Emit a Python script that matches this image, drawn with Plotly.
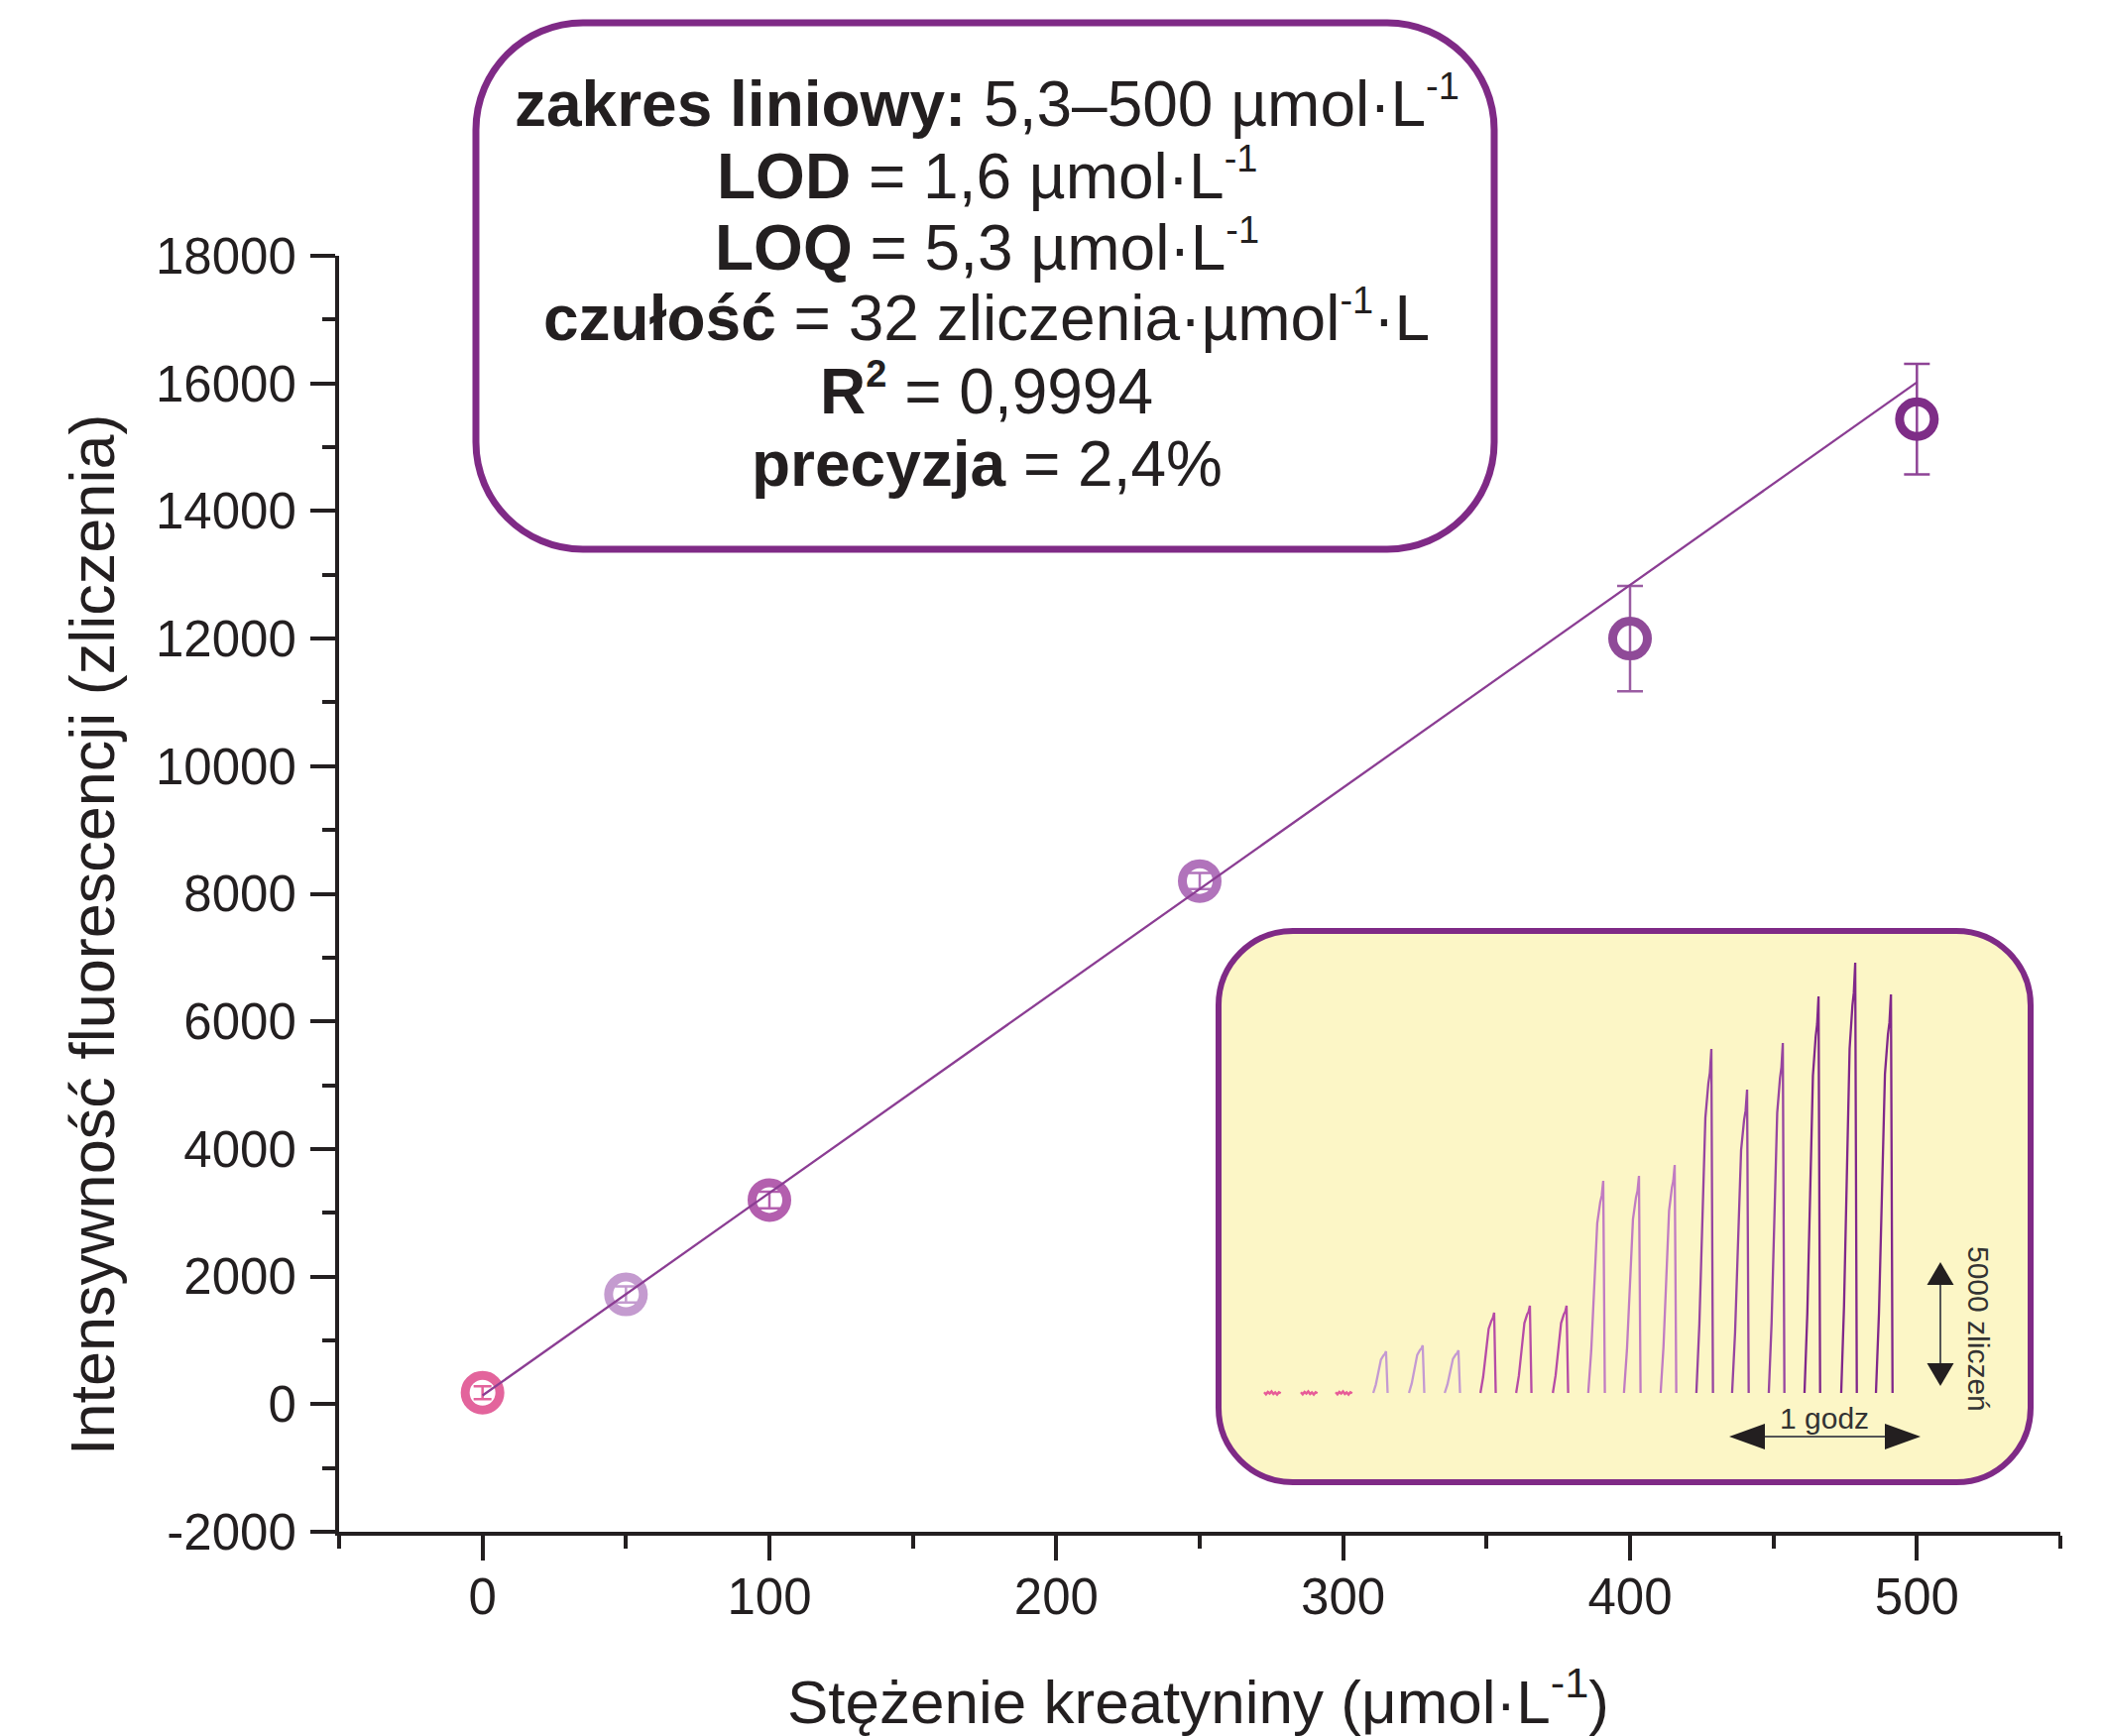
import plotly.graph_objects as go

# ---------------- data ----------------
CONC = [0, 50, 100, 250, 400, 500]                      # µmol/L
INTENSITY = [180, 1720, 3200, 8200, 12000, 15440]       # counts
INTENSITY_SD = [100, 125, 130, 125, 825, 868]           # counts
FIT_X = [0, 500]
FIT_Y = [136, 16016]

X_TICKS = [0, 100, 200, 300, 400, 500]
X_TICK_TEXT = ["0", "100", "200", "300", "400", "500"]
Y_TICKS = [-2000, 0, 2000, 4000, 6000, 8000, 10000, 12000, 14000, 16000, 18000]
Y_TICK_TEXT = ["-2000", "0", "2000", "4000", "6000", "8000", "10000",
               "12000", "14000", "16000", "18000"]

# inset: raw signal (time in min, signal in counts)
BLANK_START_MIN = [0.0, 11.5, 22.4]
BLANK_LEN_MIN = 5.2
BLANK_NOISE = [30, -50, 40, -20, 60, -40, 20, -60, 30, -10]
PEAK_GROUP = [50, 50, 50, 100, 100, 100, 250, 250, 250, 400, 400, 400, 500, 500, 500]
PEAK_START_MIN = [34.2, 45.4, 56.6, 67.8, 79.0, 90.5, 101.6, 112.8, 124.3,
                  135.5, 146.7, 158.2, 169.4, 180.9, 191.8]
PEAK_TOP_MIN = [38.2, 49.7, 60.9, 72.1, 83.3, 94.8, 106.3, 117.5, 128.7,
                140.2, 151.4, 162.6, 173.8, 185.3, 196.5]
PEAK_COUNTS = [1680, 1920, 1720, 3240, 3520, 3520, 8560, 8760, 9200,
               13880, 12240, 14120, 16000, 17360, 16080]
# fractional rise profile of one injection peak (time fraction, height fraction)
RISE_PROFILE = [(0.0, 0.0), (0.2, 0.2), (0.4, 0.5), (0.6, 0.8), (0.8, 0.9), (0.9, 0.93), (1.0, 1.0)]
DROP_MIN = 0.5
SCALE_COUNTS = 5000
SCALE_MIN = 60

# ---------------- styles ----------------
FONT = "Liberation Sans, Arial, Helvetica, sans-serif"
INK = "#231f20"
BOX_PURPLE = "#7f2a86"
POINT_COLORS = ["#e3649c", "#c49bcf", "#b35fae", "#b173bb", "#8f4a98", "#7e2d87"]
ERR_COLORS = ["#e3649c", "#c49bcf", "#b35fae", "#b173bb", "#9a5ca2", "#8e4396"]
CAP_W = [9, 11, 11, 11, 13, 13]
GROUP_COLORS = {0: "#e75b98", 50: "#c49ad2", 100: "#b64ba6", 250: "#c17cc2",
                400: "#9745a0", 500: "#80278a"}

# page geometry (page pixels; the page body has an 8px margin)
PAGE_W, PAGE_H = 2120, 1751
BODY = 8
L, R, T, B = 342, 2078, 258, 1545
W, H = PAGE_W - BODY, PAGE_H - BODY


def px_x(px):
    return (px - L) / (R - L)


def px_y(py):
    return (B - py) / (B - T)


def rr_path(x0, y0, x1, y1, r):
    k = 0.5523 * r
    pts = [
        ("M", [(x0 + r, y0)]),
        ("L", [(x1 - r, y0)]),
        ("C", [(x1 - r + k, y0), (x1, y0 + r - k), (x1, y0 + r)]),
        ("L", [(x1, y1 - r)]),
        ("C", [(x1, y1 - r + k), (x1 - r + k, y1), (x1 - r, y1)]),
        ("L", [(x0 + r, y1)]),
        ("C", [(x0 + r - k, y1), (x0, y1 - r + k), (x0, y1 - r)]),
        ("L", [(x0, y0 + r)]),
        ("C", [(x0, y0 + r - k), (x0 + r - k, y0), (x0 + r, y0)]),
    ]
    s = ""
    for cmd, ps in pts:
        s += cmd + " ".join(f"{px_x(a):.5f},{px_y(b):.5f}" for a, b in ps)
    return s + "Z"


fig = go.Figure()

# calibration points with error bars
for i in range(len(CONC)):
    fig.add_trace(go.Scatter(
        x=[CONC[i]], y=[INTENSITY[i]], mode="markers",
        marker=dict(symbol="circle-open", size=35, color=POINT_COLORS[i],
                    line=dict(width=9, color=POINT_COLORS[i])),
        error_y=dict(type="data", array=[INTENSITY_SD[i]], color=ERR_COLORS[i],
                     thickness=2.5, width=CAP_W[i]),
        showlegend=False, hoverinfo="skip", cliponaxis=False))

# fit line
fig.add_trace(go.Scatter(x=FIT_X, y=FIT_Y, mode="lines",
                         line=dict(color="#8b3d93", width=2.3),
                         showlegend=False, hoverinfo="skip"))

# ---------------- inset traces ----------------
bx, by = [], []
for s in BLANK_START_MIN:
    n = len(BLANK_NOISE)
    for j, v in enumerate(BLANK_NOISE):
        bx.append(s + BLANK_LEN_MIN * j / (n - 1))
        by.append(v)
    bx.append(None)
    by.append(None)
fig.add_trace(go.Scatter(x=bx, y=by, mode="lines", xaxis="x2", yaxis="y2",
                         line=dict(color=GROUP_COLORS[0], width=2.5),
                         showlegend=False, hoverinfo="skip"))

for g in [50, 100, 250, 400, 500]:
    gx, gy = [], []
    for k in range(len(PEAK_GROUP)):
        if PEAK_GROUP[k] != g:
            continue
        s, t, h = PEAK_START_MIN[k], PEAK_TOP_MIN[k], PEAK_COUNTS[k]
        for ft, fh in RISE_PROFILE:
            gx.append(s + ft * (t - s))
            gy.append(fh * h)
        gx += [t + DROP_MIN, None]
        gy += [0, None]
    fig.add_trace(go.Scatter(x=gx, y=gy, mode="lines", xaxis="x2", yaxis="y2",
                             line=dict(color=GROUP_COLORS[g], width=2.3),
                             showlegend=False, hoverinfo="skip"))

# inset axis calibration (page pixels)
IN_X0_PX = 1275.0
IN_BASE_PX = 1405.0
PX_PER_MIN = 3.217
PX_PER_COUNT = 0.025
in_dom_x = [1240, 2040]
in_dom_y = [950, 1490]
x2_range = [(p - IN_X0_PX) / PX_PER_MIN for p in in_dom_x]
y2_range = [(IN_BASE_PX - in_dom_y[1]) / PX_PER_COUNT, (IN_BASE_PX - in_dom_y[0]) / PX_PER_COUNT]

# scale arrows (in inset data units)
v_x = (1957 - IN_X0_PX) / PX_PER_MIN
v_y0 = (IN_BASE_PX - 1398) / PX_PER_COUNT
v_y1 = v_y0 + SCALE_COUNTS
h_y = (IN_BASE_PX - 1449) / PX_PER_COUNT
h_x0 = (1744 - IN_X0_PX) / PX_PER_MIN
h_x1 = h_x0 + SCALE_MIN

shapes = []
# boxes
shapes.append(dict(type="path", xref="paper", yref="paper", layer="below",
                   path=rr_path(1229, 939, 2048, 1495, 75),
                   fillcolor="#fcf6c6", line=dict(color=BOX_PURPLE, width=6)))
shapes.append(dict(type="path", xref="paper", yref="paper", layer="below",
                   path=rr_path(480, 23, 1507, 554, 108),
                   fillcolor="white", line=dict(color=BOX_PURPLE, width=7)))

ARROW_C = "#231f20"
vh = 23 / PX_PER_COUNT       # head height in counts
vw = 13.5 / PX_PER_MIN       # head half width in min
hh = 36 / PX_PER_MIN         # head length in min
hw = 13 / PX_PER_COUNT       # head half height in counts
shapes.append(dict(type="line", xref="x2", yref="y2", x0=v_x, x1=v_x, y0=v_y0 + vh, y1=v_y1 - vh,
                   line=dict(color="#555555", width=2)))
shapes.append(dict(type="path", xref="x2", yref="y2",
                   path=f"M{v_x},{v_y1} L{v_x - vw},{v_y1 - vh} L{v_x + vw},{v_y1 - vh} Z",
                   fillcolor=ARROW_C, line=dict(width=0)))
shapes.append(dict(type="path", xref="x2", yref="y2",
                   path=f"M{v_x},{v_y0} L{v_x - vw},{v_y0 + vh} L{v_x + vw},{v_y0 + vh} Z",
                   fillcolor=ARROW_C, line=dict(width=0)))
shapes.append(dict(type="line", xref="x2", yref="y2", x0=h_x0 + hh, x1=h_x1 - hh, y0=h_y, y1=h_y,
                   line=dict(color="#555555", width=2)))
shapes.append(dict(type="path", xref="x2", yref="y2",
                   path=f"M{h_x0},{h_y} L{h_x0 + hh},{h_y + hw} L{h_x0 + hh},{h_y - hw} Z",
                   fillcolor=ARROW_C, line=dict(width=0)))
shapes.append(dict(type="path", xref="x2", yref="y2",
                   path=f"M{h_x1},{h_y} L{h_x1 - hh},{h_y + hw} L{h_x1 - hh},{h_y - hw} Z",
                   fillcolor=ARROW_C, line=dict(width=0)))

annotations = []
SUP = '<sup><span style="font-size:38px">{}</span></sup>'
# box text
BOX_LINES = [
    "<b>zakres liniowy:</b> 5,3–500 µmol·L" + SUP.format("-1"),
    "<b>LOD</b> = 1,6 µmol·L" + SUP.format("-1"),
    "<b>LOQ</b> = 5,3 µmol·L" + SUP.format("-1"),
    "<b>czułość</b> = 32 zliczenia·µmol" + SUP.format("-1") + "·L",
    "<b>R" + SUP.format("2") + "</b> = 0,9994",
    "<b>precyzja</b> = 2,4%",
]
BOX_LINE_Y = [104, 176, 249, 320, 393, 468]
for txt, yy in zip(BOX_LINES, BOX_LINE_Y):
    annotations.append(dict(text=txt, xref="paper", yref="paper", x=px_x(995), y=px_y(yy),
                            xanchor="center", yanchor="middle", showarrow=False,
                            font=dict(family=FONT, size=64, color=INK)))

# axis titles
annotations.append(dict(text="Intensywność fluorescencji (zliczenia)", xref="paper", yref="paper",
                        x=px_x(93), y=px_y(943), textangle=-90, xanchor="center", yanchor="middle",
                        showarrow=False, font=dict(family=FONT, size=63, color=INK)))
annotations.append(dict(text="Stężenie kreatyniny (μmol·L<sup>-1</sup>)", xref="paper", yref="paper",
                        x=px_x(1208), y=px_y(1712), xanchor="center", yanchor="middle",
                        showarrow=False, font=dict(family=FONT, size=62, color=INK)))
# inset texts
annotations.append(dict(text="5000 zliczeń", xref="x2", yref="y2",
                        x=(1996 - IN_X0_PX) / PX_PER_MIN, y=(IN_BASE_PX - 1340) / PX_PER_COUNT,
                        textangle=90, showarrow=False, xanchor="center", yanchor="middle",
                        font=dict(family=FONT, size=30, color="#333333")))
annotations.append(dict(text="1 godz", xref="x2", yref="y2",
                        x=(1840 - IN_X0_PX) / PX_PER_MIN, y=(IN_BASE_PX - 1430) / PX_PER_COUNT,
                        showarrow=False, xanchor="center", yanchor="middle",
                        font=dict(family=FONT, size=30, color="#333333")))

axis_common = dict(showline=True, linewidth=4, linecolor=INK, ticks="outside", ticklen=25,
                   tickwidth=4, tickcolor=INK, showgrid=False, zeroline=False,
                   tickfont=dict(family=FONT, size=51, color=INK))

fig.update_layout(
    width=W, height=H, autosize=False,
    margin=dict(l=L - BODY, r=PAGE_W - R, t=T - BODY, b=PAGE_H - B, pad=0),
    paper_bgcolor="white", plot_bgcolor="rgba(0,0,0,0)",
    showlegend=False,
    xaxis=dict(range=[-50, 550], tickvals=X_TICKS, ticktext=X_TICK_TEXT, ticklabelstandoff=-7,
               minor=dict(ticks="outside", ticklen=13, tickwidth=4, tickcolor=INK, dtick=50, tick0=0),
               **axis_common),
    yaxis=dict(range=[-2000, 18000], tickvals=Y_TICKS, ticktext=Y_TICK_TEXT, ticklabelstandoff=4,
               minor=dict(ticks="outside", ticklen=13, tickwidth=4, tickcolor=INK, dtick=1000, tick0=0),
               **axis_common),
    xaxis2=dict(domain=[px_x(in_dom_x[0]), px_x(in_dom_x[1])], range=x2_range, anchor="y2",
                visible=False, fixedrange=True),
    yaxis2=dict(domain=[px_y(in_dom_y[1]), px_y(in_dom_y[0])], range=y2_range, anchor="x2",
                visible=False, fixedrange=True),
    shapes=shapes,
    annotations=annotations,
)

fig.write_html("out.html")
